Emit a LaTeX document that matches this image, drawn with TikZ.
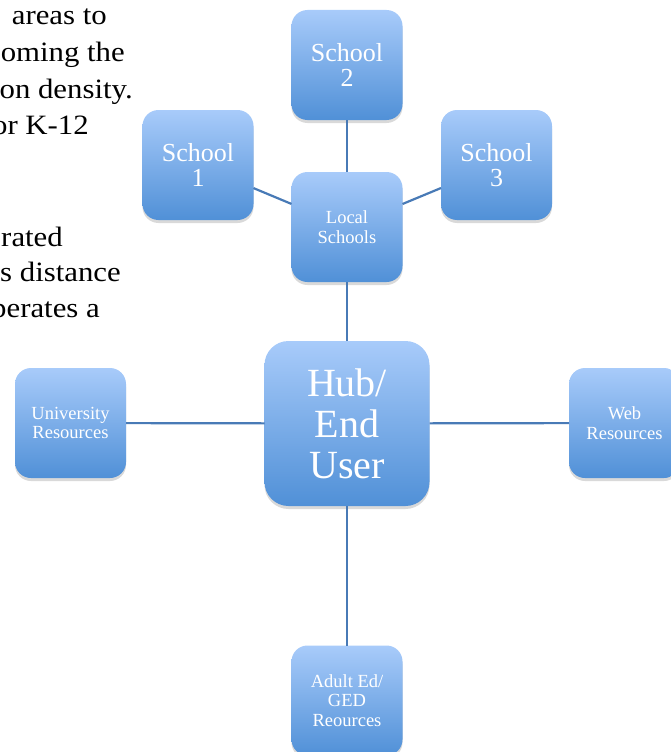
\documentclass[tikz,border=0pt]{standalone}
\usepackage{fontspec}
\usepackage{tikz}
\usetikzlibrary{shadows}
\newfontfamily\bodyfont[FakeStretch=1.1]{Liberation Serif}
\newfontfamily\boxfont{Liberation Serif}
\definecolor{boxtop}{RGB}{168,203,250}
\definecolor{boxbot}{RGB}{80,144,215}
\definecolor{linkblue}{RGB}{72,122,182}

\begin{document}
\begin{tikzpicture}[x=1pt,y=-1pt,
				   box/.style={rectangle, rounded corners=16pt, minimum width=111pt, minimum height=110pt,
				               outer sep=0pt, top color=boxtop, bottom color=boxbot, text=white, align=center,
				               drop shadow={shadow xshift=0pt, shadow yshift=-3pt, opacity=0.15, fill=black}},
				   big/.style={box, font=\boxfont\fontsize{26}{25}\selectfont},
				   small/.style={box, font=\boxfont\fontsize{18.5}{19.5}\selectfont},
				   hub/.style={box, rounded corners=24pt, minimum width=165pt, minimum height=165pt,
				               font=\boxfont\fontsize{40}{41}\selectfont},
				   link/.style={draw=linkblue, line width=2.2pt},
				   body/.style={anchor=base east, inner sep=0pt, font=\bodyfont\fontsize{28}{36}\selectfont}]
\useasboundingbox (0,0) rectangle (671,752);
\clip (0,0) rectangle (671,752);
% text of the page behind the diagram
\node[body] (t1) at (107,25) {areas to};
\node[body] (t2) at (125,62) {oming the};
\node[body] (t3) at (133,98) {on density.};
\node[body] (t4) at (89,134) {or K-12};
\node[body] (t5) at (63,246) {rated};
\node[body] (t6) at (121,281) {s distance};
\node[body] (t7) at (100,317) {perates a};
% boxes
\node[hub] (hub) at (347,423.5) {Hub/\\End\\User};
\node[small] (local) at (347,227) {Local\\Schools};
\node[big] (s1) at (198,165) {School\\1};
\node[big] (s2) at (347,65) {School\\2};
\node[big] (s3) at (496.5,165) {School\\3};
\node[small] (uni) at (70.5,423) {University\\Resources};
\node[small] (web) at (624.5,423) {Web\\Resources};
\node[small] (adult) at (347,700.5) {Adult Ed/\\GED\\Reources};
% connectors
\draw[link] (s1) -- (local);
\draw[link] (s2) -- (local);
\draw[link] (s3) -- (local);
\draw[link] (local) -- (hub);
\draw[link] (uni) -- (hub);
\draw[link] (web) -- (hub);
\draw[link] (adult) -- (hub);
\end{tikzpicture}
\end{document}
